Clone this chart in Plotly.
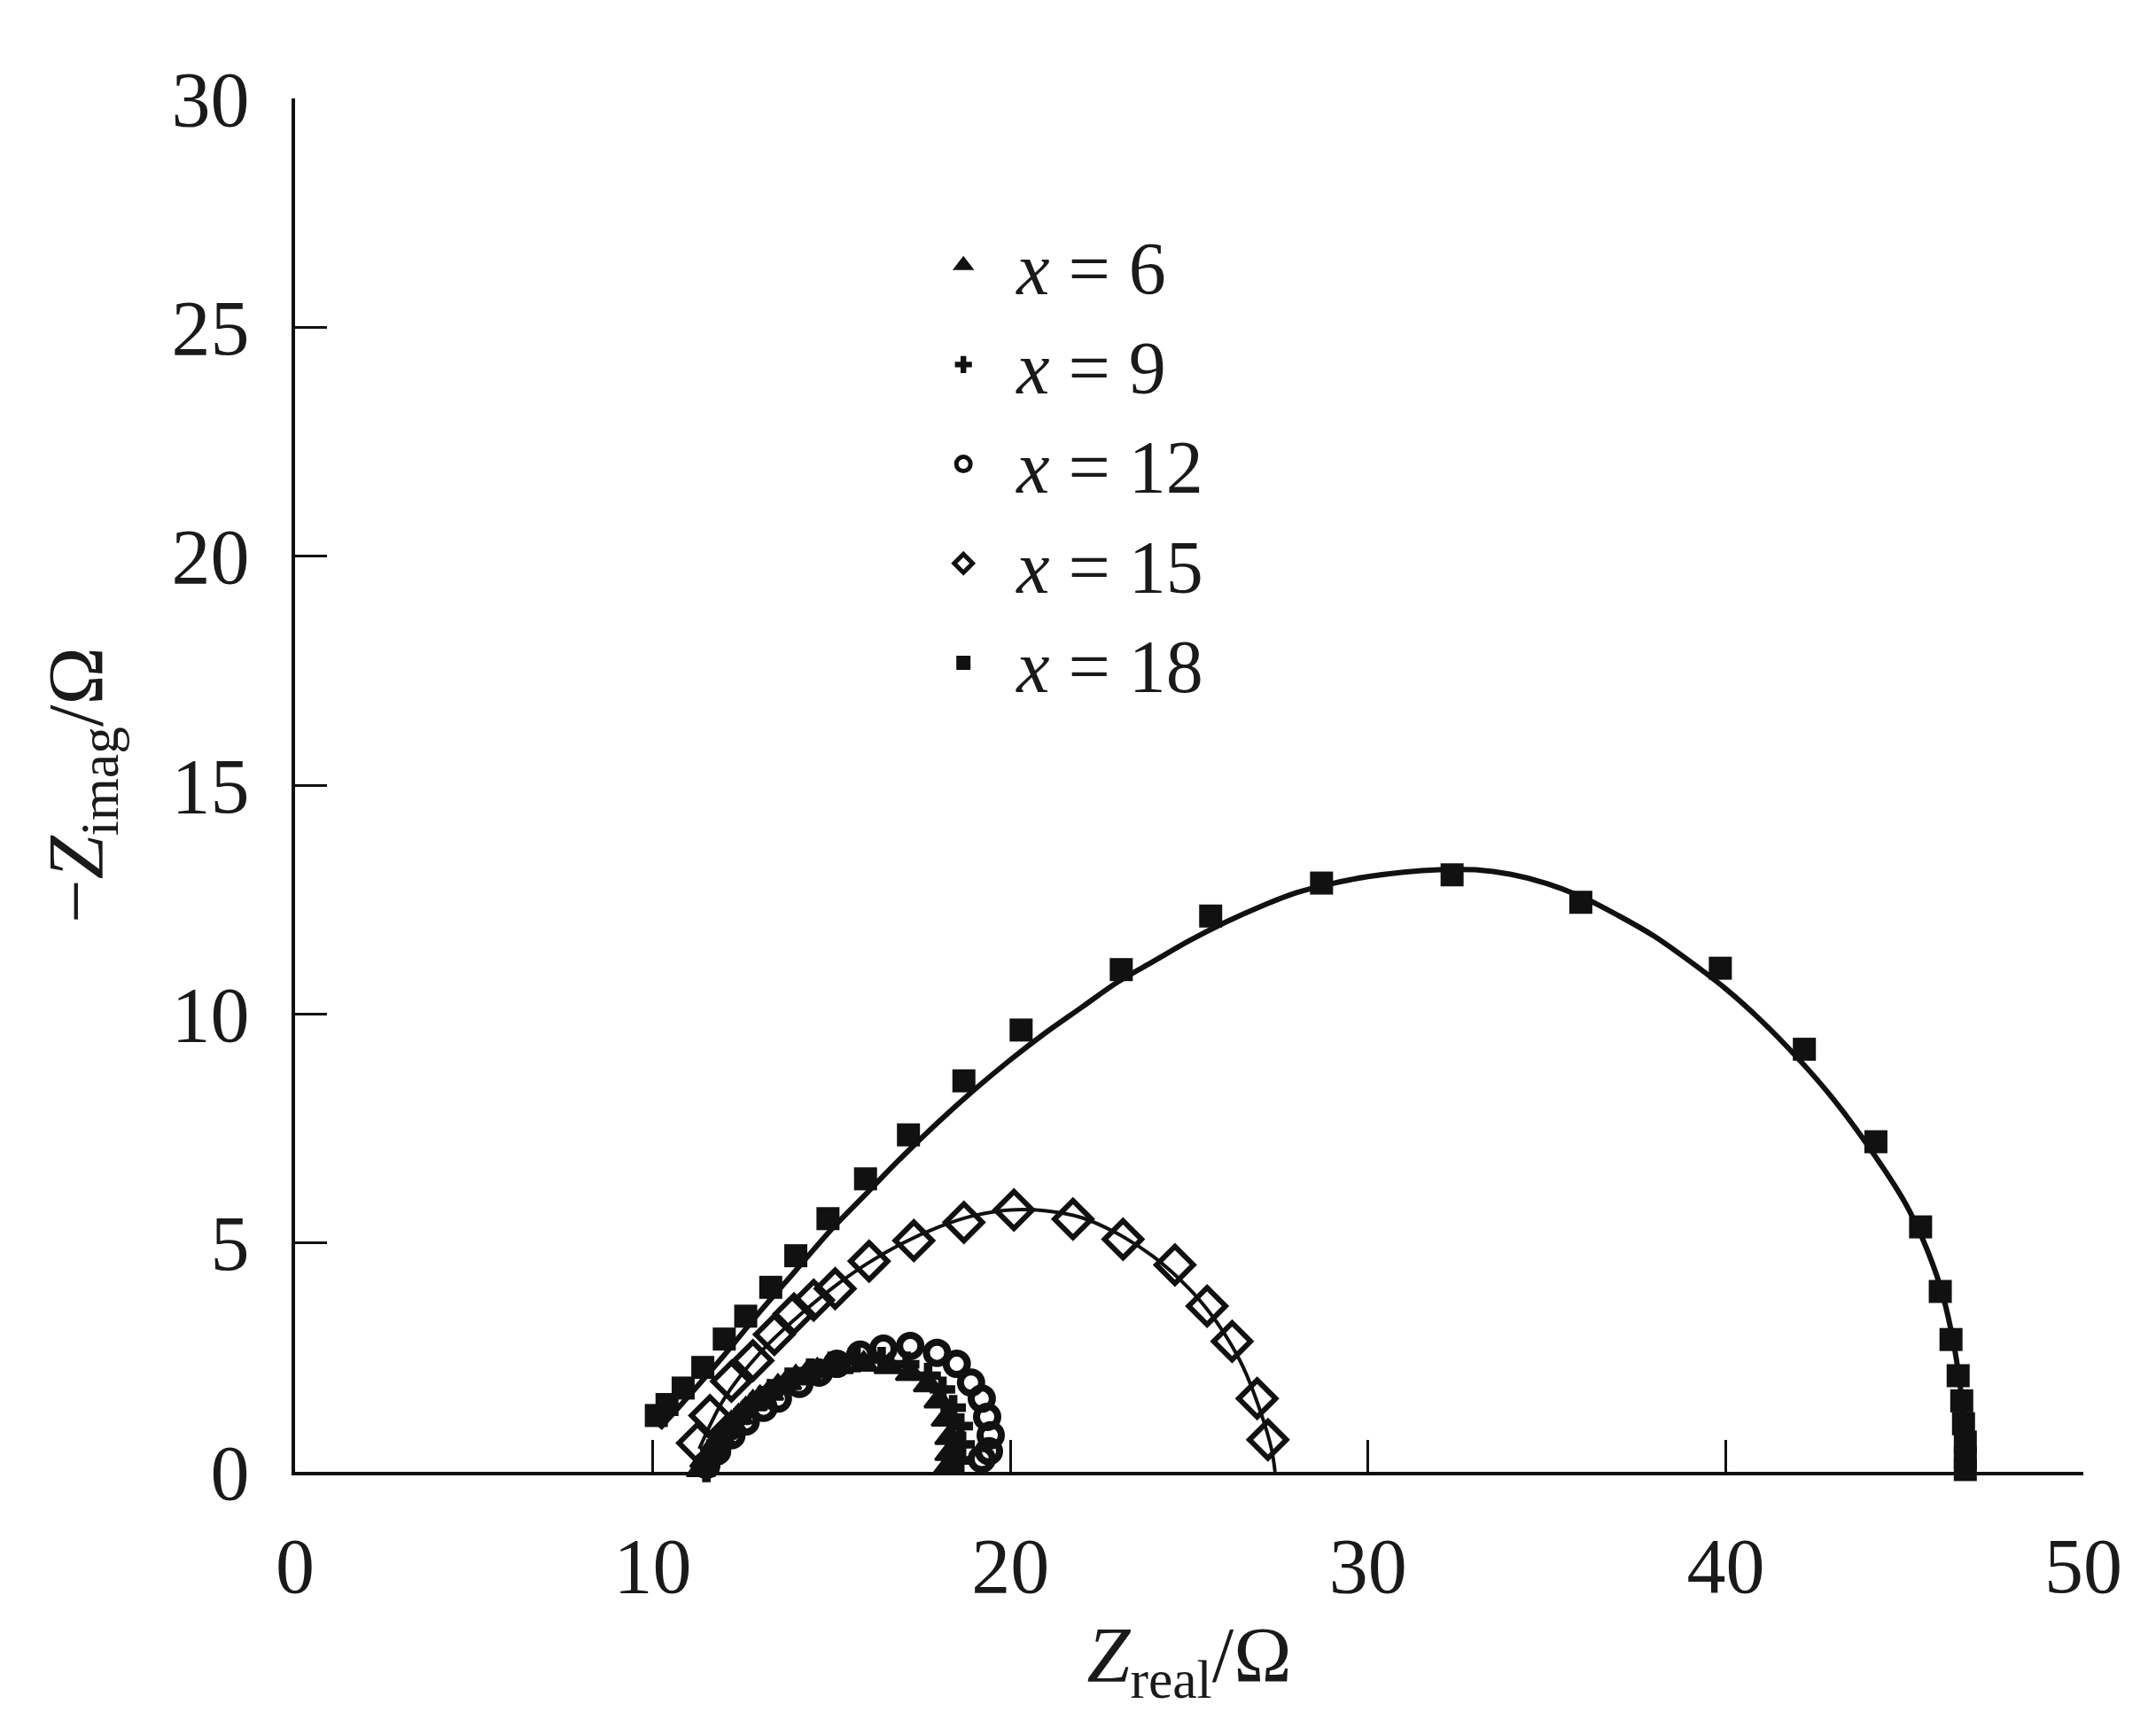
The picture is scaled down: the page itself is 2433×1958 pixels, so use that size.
import plotly.graph_objects as go

# ---- data ----
labels = ["<i>x</i> = 6", "<i>x</i> = 9", "<i>x</i> = 12", "<i>x</i> = 15", "<i>x</i> = 18"]

z6_re = [11.35, 11.45, 11.6, 11.75, 11.9, 12.05, 12.2, 12.4, 12.6, 12.8, 13.0, 13.25, 13.5, 13.75, 14.0, 14.3, 14.6,
         15.2, 15.9, 16.6, 17.2, 17.7, 18.0, 18.2, 18.3, 18.3, 18.25]
z6_im = [0.05, 0.25, 0.4, 0.6, 0.75, 0.9, 1.05, 1.2, 1.35, 1.5, 1.6, 1.72, 1.85, 1.95, 2.05, 2.12, 2.2,
         2.3, 2.35, 2.3, 2.15, 1.9, 1.55, 1.15, 0.75, 0.4, 0.1]

z9_re = [11.5, 11.6, 11.7, 11.85, 12.0, 12.2, 12.4, 12.6, 12.8, 13.05, 13.3, 13.8, 14.4, 15.0, 15.7, 16.4, 17.1, 17.7,
         18.1, 18.4, 18.6, 18.65, 18.6]
z9_im = [0.05, 0.25, 0.45, 0.62, 0.8, 0.98, 1.15, 1.3, 1.45, 1.6, 1.75, 2.0, 2.2, 2.35, 2.45, 2.45, 2.35, 2.1,
         1.8, 1.4, 1.0, 0.6, 0.25]

z12_re = [11.5, 11.8, 12.2, 12.6, 13.1, 13.5, 14.1, 14.65, 15.15, 15.8, 16.45, 17.2, 17.95, 18.5, 18.9, 19.2, 19.35, 19.45, 19.4, 19.2]
z12_im = [0.15, 0.45, 0.8, 1.1, 1.4, 1.6, 1.92, 2.17, 2.36, 2.56, 2.69, 2.75, 2.6, 2.36, 1.95, 1.6, 1.2, 0.8, 0.45, 0.28]

z15_re = [11.25, 11.6, 12.2, 12.8, 13.4, 13.95, 14.5, 15.1, 16.05, 17.3, 18.7, 20.1, 21.75, 23.15, 24.6, 25.5, 26.2, 26.9, 27.2]
z15_im = [0.63, 1.23, 1.98, 2.43, 3.0, 3.45, 3.75, 4.0, 4.6, 5.05, 5.45, 5.72, 5.52, 5.08, 4.52, 3.62, 2.85, 1.6, 0.7]

z18_re = [10.1, 10.4, 10.85, 11.4, 12.0, 12.6, 13.3, 14.0, 14.9, 15.95, 17.15, 18.7, 20.3, 23.1, 25.6, 28.7, 32.35,
          35.95, 39.85, 42.2, 44.2, 45.45, 46.0, 46.3, 46.5, 46.6, 46.65, 46.7, 46.7, 46.7]
z18_im = [1.23, 1.47, 1.83, 2.28, 2.9, 3.4, 4.03, 4.72, 5.53, 6.4, 7.36, 8.54, 9.65, 10.97, 12.14, 12.86, 13.04,
          12.44, 11.0, 9.23, 7.21, 5.35, 3.94, 2.89, 2.1, 1.55, 1.05, 0.65, 0.3, 0.05]

# fitted curves
fit15_re = [11.3, 12.0, 13.0, 14.0, 15.0, 16.0, 17.0, 18.0, 19.0, 20.0, 21.0, 22.0, 23.0, 24.0, 25.0, 25.5, 26.0, 26.5, 27.0, 27.3, 27.4]
fit15_im = [0.5, 1.6, 2.6, 3.35, 4.0, 4.55, 5.0, 5.35, 5.6, 5.72, 5.7, 5.55, 5.2, 4.7, 4.0, 3.55, 3.0, 2.3, 1.3, 0.5, 0.0]

fit18_re = [10.2, 11, 12, 13, 14, 15, 16, 17, 18, 19, 20, 21, 22, 23, 24, 25, 26, 27, 28, 29, 30, 31, 32, 33, 34,
            35, 36, 37, 38, 39, 40, 41, 42, 43, 44, 45, 45.5, 46, 46.3, 46.5, 46.65, 46.7]
fit18_im = [0.95, 1.65, 2.55, 3.5, 4.4, 5.3, 6.1, 6.9, 7.65, 8.35, 9.0, 9.6, 10.15, 10.7, 11.15, 11.6, 12.0, 12.35,
            12.65, 12.85, 13.0, 13.1, 13.15, 13.15, 13.05, 12.85, 12.55, 12.15, 11.7, 11.15, 10.55, 9.85, 9.05,
            8.15, 7.1, 5.9, 5.1, 4.05, 3.1, 2.2, 1.2, 0.0]

x_ticks = [0, 10, 20, 30, 40, 50]
y_ticks = [0, 5, 10, 15, 20, 25, 30]

FONT = "Liberation Serif"
BLACK = "#111111"
TXT = "#1a1a1a"

fig = go.Figure()

# fitted lines
fig.add_trace(go.Scatter(x=fit15_re, y=fit15_im, mode="lines", line=dict(color=BLACK, width=4, shape="spline"),
                         showlegend=False, hoverinfo="skip", cliponaxis=False))
fig.add_trace(go.Scatter(x=fit18_re, y=fit18_im, mode="lines", line=dict(color=BLACK, width=6, shape="spline"),
                         showlegend=False, hoverinfo="skip", cliponaxis=False))

series = [
    (z6_re, z6_im, "triangle-up", 28, 3),
    (z9_re, z9_im, "cross", 24, 0),
    (z12_re, z12_im, "circle-open", 24, 8),
    (z15_re, z15_im, "diamond-open", 32, 6),
    (z18_re, z18_im, "square", 26, 0),
]
for (xr, yi, sym, sz, lw), name in zip(series, labels):
    fig.add_trace(go.Scatter(
        x=xr, y=yi, mode="markers", name=name, cliponaxis=False,
        marker=dict(symbol=sym, size=sz, color=BLACK, line=dict(color=BLACK, width=lw)),
    ))

axis_common = dict(
    showgrid=False, zeroline=False, showline=True, linecolor=BLACK, linewidth=4,
    ticks="inside", ticklen=36, tickwidth=3, tickcolor=BLACK,
    tickfont=dict(family=FONT, size=88, color=TXT),
    mirror=False,
)

fig.update_layout(
    width=2433, height=1958,
    paper_bgcolor="white", plot_bgcolor="white",
    margin=dict(l=325, r=90, t=103, b=305),
    font=dict(family=FONT, size=88, color=TXT),
    xaxis=dict(range=[0, 50], tickvals=x_ticks, ticktext=[str(v) for v in x_ticks],
               ticklabelstandoff=26,
               title=dict(text="<i>Z</i><sub>real</sub>/Ω", font=dict(family=FONT, size=88, color=TXT), standoff=22),
               **axis_common),
    yaxis=dict(range=[0, 30], tickvals=y_ticks, ticktext=[str(v) for v in y_ticks],
               ticklabelstandoff=30,
               title=dict(text="−<i>Z</i><sub>imag</sub>/Ω", font=dict(family=FONT, size=88, color=TXT), standoff=50),
               **axis_common),
    legend=dict(x=0.344, y=0.918, xanchor="left", yanchor="top", bgcolor="rgba(0,0,0,0)",
                font=dict(family=FONT, size=84, color=TXT), itemsizing="trace", itemwidth=110, tracegroupgap=0),
    showlegend=True,
)

fig.write_html("out.html")
